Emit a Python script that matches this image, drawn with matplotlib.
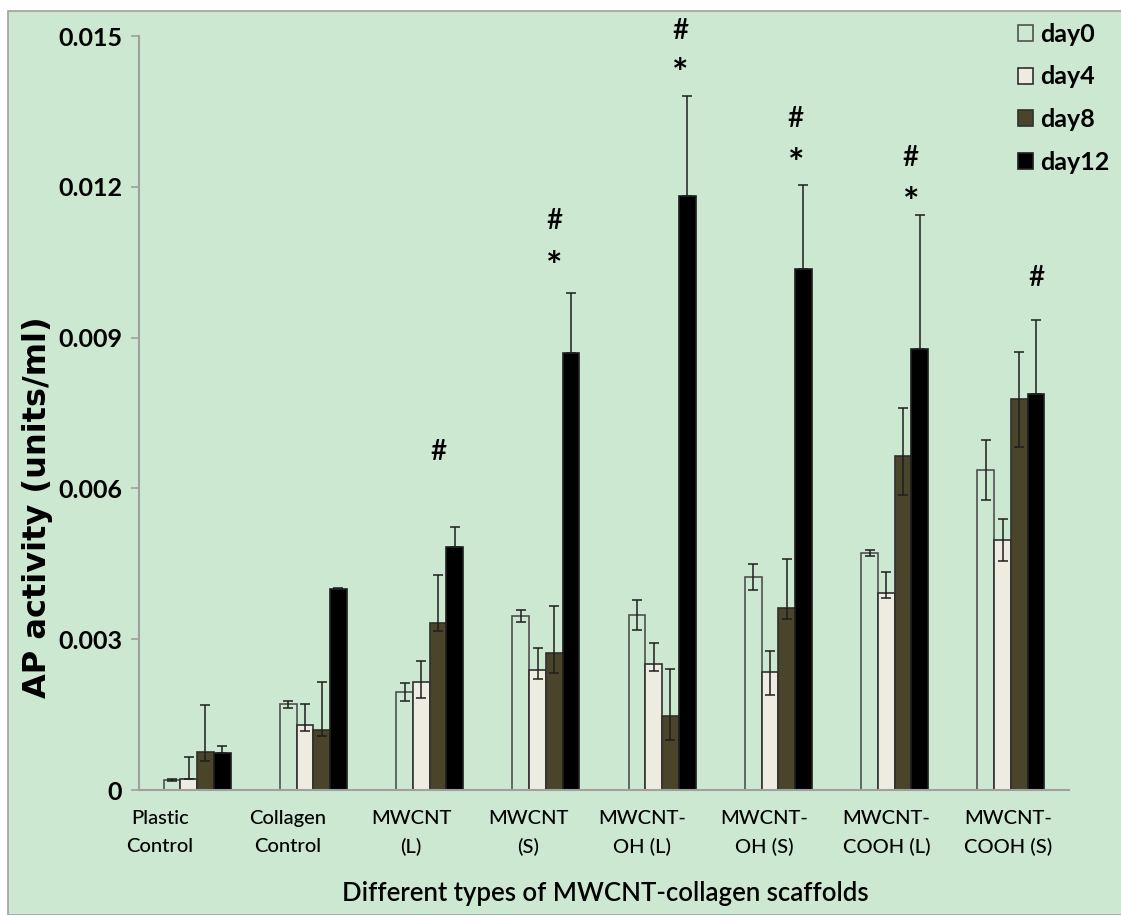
import numpy as np
import matplotlib.pyplot as plt
from matplotlib.patches import Rectangle
from matplotlib.transforms import ScaledTranslation

# --- data -------------------------------------------------------------------
groups = ["Plastic\nControl", "Collagen\nControl", "MWCNT\n(L)", "MWCNT\n(S)",
          "MWCNT-\nOH (L)", "MWCNT-\nOH (S)", "MWCNT-\nCOOH (L)", "MWCNT-\nCOOH (S)"]
days = ["day0", "day4", "day8", "day12"]

day0 = [0.00020, 0.00171, 0.00195, 0.00347, 0.00348, 0.00424, 0.00471, 0.00636]
day0_lo = [0.00002, 0.00007, 0.00018, 0.00013, 0.00029, 0.00027, 0.00006, 0.00060]
day0_hi = [0.00002, 0.00007, 0.00017, 0.00012, 0.00029, 0.00025, 0.00006, 0.00061]

day4 = [0.00022, 0.00129, 0.00214, 0.00239, 0.00250, 0.00234, 0.00391, 0.00498]
day4_lo = [0.00000, 0.00012, 0.00030, 0.00018, 0.00014, 0.00046, 0.00010, 0.00043]
day4_hi = [0.00044, 0.00042, 0.00042, 0.00043, 0.00042, 0.00042, 0.00042, 0.00042]

day8 = [0.00075, 0.00120, 0.00333, 0.00273, 0.00147, 0.00363, 0.00665, 0.00777]
day8_lo = [0.00017, 0.00013, 0.00017, 0.00041, 0.00048, 0.00022, 0.00078, 0.00094]
day8_hi = [0.00094, 0.00095, 0.00094, 0.00093, 0.00094, 0.00096, 0.00094, 0.00095]

day12 = [0.00074, 0.00399, 0.00483, 0.00870, 0.01182, 0.01036, 0.00878, 0.00787]
day12_lo = [0, 0, 0, 0, 0, 0, 0, 0]
day12_hi = [0.00014, 0.00002, 0.00041, 0.00119, 0.00199, 0.00168, 0.00266, 0.00149]

# significance marks: (label, x in category units, y in data units)
marks = [("#", 2.08, 0.00672),
         ("#", 3.07, 0.01132), ("*", 3.07, 0.01059),
         ("#", 4.16, 0.01510), ("*", 4.16, 0.01442),
         ("#", 5.15, 0.01335), ("*", 5.15, 0.01264),
         ("#", 6.14, 0.01258), ("*", 6.14, 0.01186),
         ("#", 7.22, 0.01019)]

# --- style ------------------------------------------------------------------
BG = "#CDE8D1"
FONT = "Lato"
face = [BG, "#EEEBE0", "#4A442A", "#000000"]
edge = ["#505050", "#303030", "#303030", "#202020"]

fig = plt.figure(figsize=(11.21, 9.15), dpi=100, facecolor="white")
W, H = 1121, 915
fig.patches.append(Rectangle((8 / W, 0), 1, (H - 11) / H, transform=fig.transFigure,
                             facecolor=BG, edgecolor="#A0A0A0", linewidth=1.2,
                             zorder=-5))

ax = fig.add_axes([139 / W, (H - 790) / H, (1069 - 139) / W, (790 - 36) / H])
ax.set_facecolor("none")
ax.set_zorder(2)

x = np.arange(len(groups))
bw = 0.1437
series = [(day0, day0_lo, day0_hi), (day4, day4_lo, day4_hi),
          (day8, day8_lo, day8_hi), (day12, day12_lo, day12_hi)]
for i, (vals, lo, hi) in enumerate(series):
    pos = x + (i - 1.5) * bw
    ax.bar(pos, vals, width=bw, color=face[i], edgecolor=edge[i], linewidth=1.2,
           label=days[i], zorder=2)
    ax.errorbar(pos, vals, yerr=[lo, hi], fmt="none", ecolor="#1E1E1E",
                elinewidth=1.1, capsize=3.5, capthick=1.1, zorder=3)

# the asterisk glyph sits high in the em box, so pull it down a little
star_shift = ScaledTranslation(0, -7 / 72, fig.dpi_scale_trans)
for s, mx, my in marks:
    if s == "*":
        ax.text(mx, my, s, ha="center", va="center", fontsize=28, family=FONT,
                fontweight="bold", color="black", clip_on=False,
                transform=ax.transData + star_shift)
    else:
        ax.text(mx, my, s, ha="center", va="center", fontsize=20, family=FONT,
                fontweight="semibold", color="black", clip_on=False)

ax.set_xlim(-0.5, len(groups) - 0.5)
ax.set_ylim(0, 0.015)
ax.set_yticks(np.arange(0, 0.0151, 0.003))
ax.set_yticklabels(["0", "0.003", "0.006", "0.009", "0.012", "0.015"],
                   fontsize=18, family=FONT, fontweight="bold")
ax.tick_params(axis="y", length=6, width=1.2, color="#A0A0A0", pad=6)
ax.set_xticks([])
for side in ["top", "right"]:
    ax.spines[side].set_visible(False)
for side in ["left", "bottom"]:
    ax.spines[side].set_color("#A0A0A0")
    ax.spines[side].set_linewidth(1.5)

# category labels sit a little left of the bar groups
label_shift = [-0.32, -0.22, -0.16, -0.15, -0.17, -0.12, -0.07, -0.02]
for xi, name, dx in zip(x, groups, label_shift):
    ax.text(xi + dx, -0.0004, name, ha="center", va="top", fontsize=14.5,
            family=FONT, fontweight="medium", linespacing=1.75)

fig.text(605 / W, 1 - 893 / H, "Different types of MWCNT-collagen scaffolds",
         ha="center", va="center", fontsize=18.5, family=FONT,
         fontweight="semibold")
fig.text(38 / W, 1 - 507 / H, "AP activity (units/ml)", rotation=90,
         ha="center", va="center", fontsize=23, family="DejaVu Sans",
         fontweight="bold")

leg = ax.legend(loc="upper left", bbox_to_anchor=(1008 / W, 1 - 13 / H),
                bbox_transform=fig.transFigure, frameon=False,
                prop={"family": FONT, "size": 18, "weight": "bold"},
                handlelength=0.6, handleheight=0.6, handletextpad=0.3,
                labelspacing=0.78, borderaxespad=0)

fig.savefig("out.png", dpi=100, facecolor=fig.get_facecolor())
